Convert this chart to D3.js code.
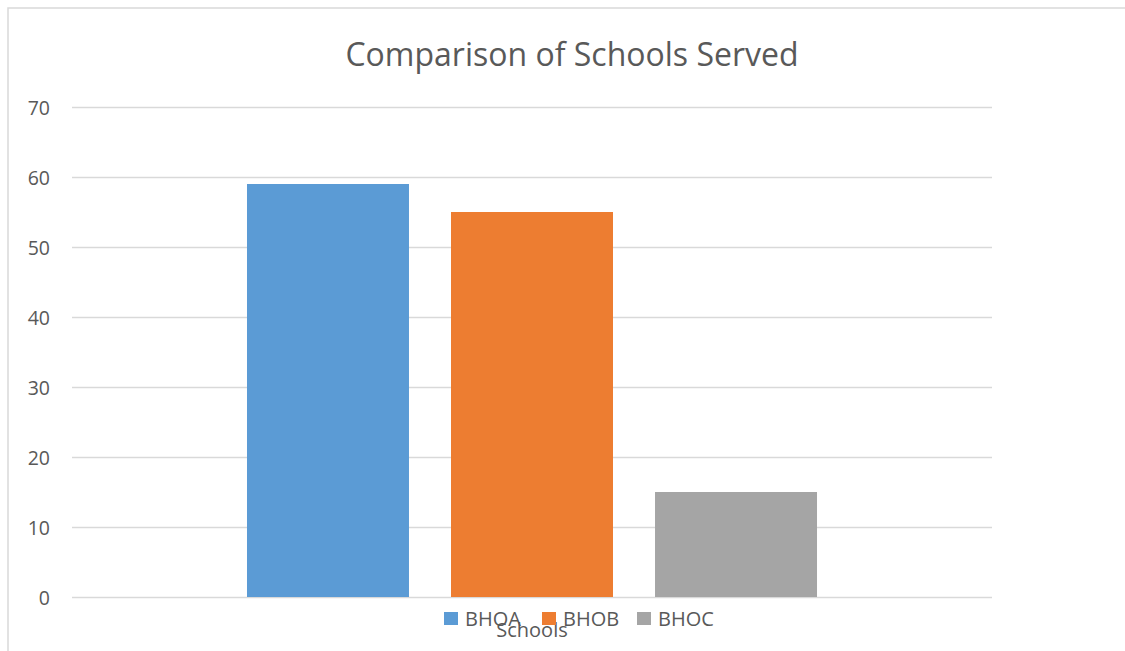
<!DOCTYPE html>
<html><head><meta charset="utf-8">
<script src="https://cdn.jsdelivr.net/npm/d3@7"></script>
<style>body{margin:0;background:#fff}svg{display:block}text{font-family:"Open Sans","Noto Sans",sans-serif}</style>
</head><body>
<svg id="c" width="1125" height="651"></svg>
<script>
const categories = ["Schools"];
const seriesNames = ["BHOA", "BHOB", "BHOC"];
const seriesValues = [59, 55, 15];
const seriesColors = ["#5b9bd5", "#ed7d31", "#a5a5a5"];
const yTicks = [0, 10, 20, 30, 40, 50, 60, 70];
const titleText = "Comparison of Schools Served";

const svg = d3.select("#c");
// chart frame
svg.append("rect").attr("x", 8).attr("y", 8).attr("width", 1130).attr("height", 660)
  .attr("fill", "#fff").attr("stroke", "#d9d9d9").attr("stroke-width", 1.5);

const plot = {left: 72, right: 992, top: 107, bottom: 597};
const y = d3.scaleLinear().domain([0, 70]).range([plot.bottom, plot.top]);
const x0 = d3.scaleBand().domain(categories).range([plot.left, plot.right]).paddingInner(0).paddingOuter(0.307);
const x1 = d3.scaleBand().domain(seriesNames).range([0, x0.bandwidth()]).paddingInner(0.206).paddingOuter(0);
const color = d3.scaleOrdinal().domain(seriesNames).range(seriesColors);

// gridlines
const yAxis = d3.axisLeft(y).tickValues(yTicks).tickSize(-(plot.right - plot.left)).tickPadding(22);
const ga = svg.append("g").attr("transform", `translate(${plot.left},0)`).call(yAxis);
ga.select(".domain").remove();
ga.selectAll(".tick line").attr("stroke", "#d9d9d9").attr("stroke-width", 1.5);
ga.selectAll(".tick text").attr("fill", "#595959").style("font-size", "19.5px").attr("dy", "0.36em");

// bars
const g = svg.append("g");
categories.forEach(cat => {
  g.selectAll(null).data(seriesNames.map((s, i) => ({s, v: seriesValues[i]}))).enter()
    .append("rect")
    .attr("x", d => x0(cat) + x1(d.s))
    .attr("y", d => y(d.v))
    .attr("width", x1.bandwidth())
    .attr("height", d => y(0) - y(d.v))
    .attr("fill", d => color(d.s));
});

// title
svg.append("text").attr("x", 572).attr("y", 66).attr("text-anchor", "middle")
  .attr("fill", "#595959").style("font-size", "32px").text(titleText);

// axis title
svg.append("text").attr("x", (plot.left + plot.right) / 2).attr("y", 637).attr("text-anchor", "middle")
  .attr("fill", "#595959").style("font-size", "20px").text(categories[0]);

// legend
const legendX = [444, 542, 637];
const lg = svg.append("g");
seriesNames.forEach((s, i) => {
  lg.append("rect").attr("x", legendX[i]).attr("y", 612).attr("width", 14).attr("height", 13).attr("fill", color(s));
  lg.append("text").attr("x", legendX[i] + 21).attr("y", 626).attr("fill", "#595959").style("font-size", "20px").text(s);
});
</script>
</body></html>
